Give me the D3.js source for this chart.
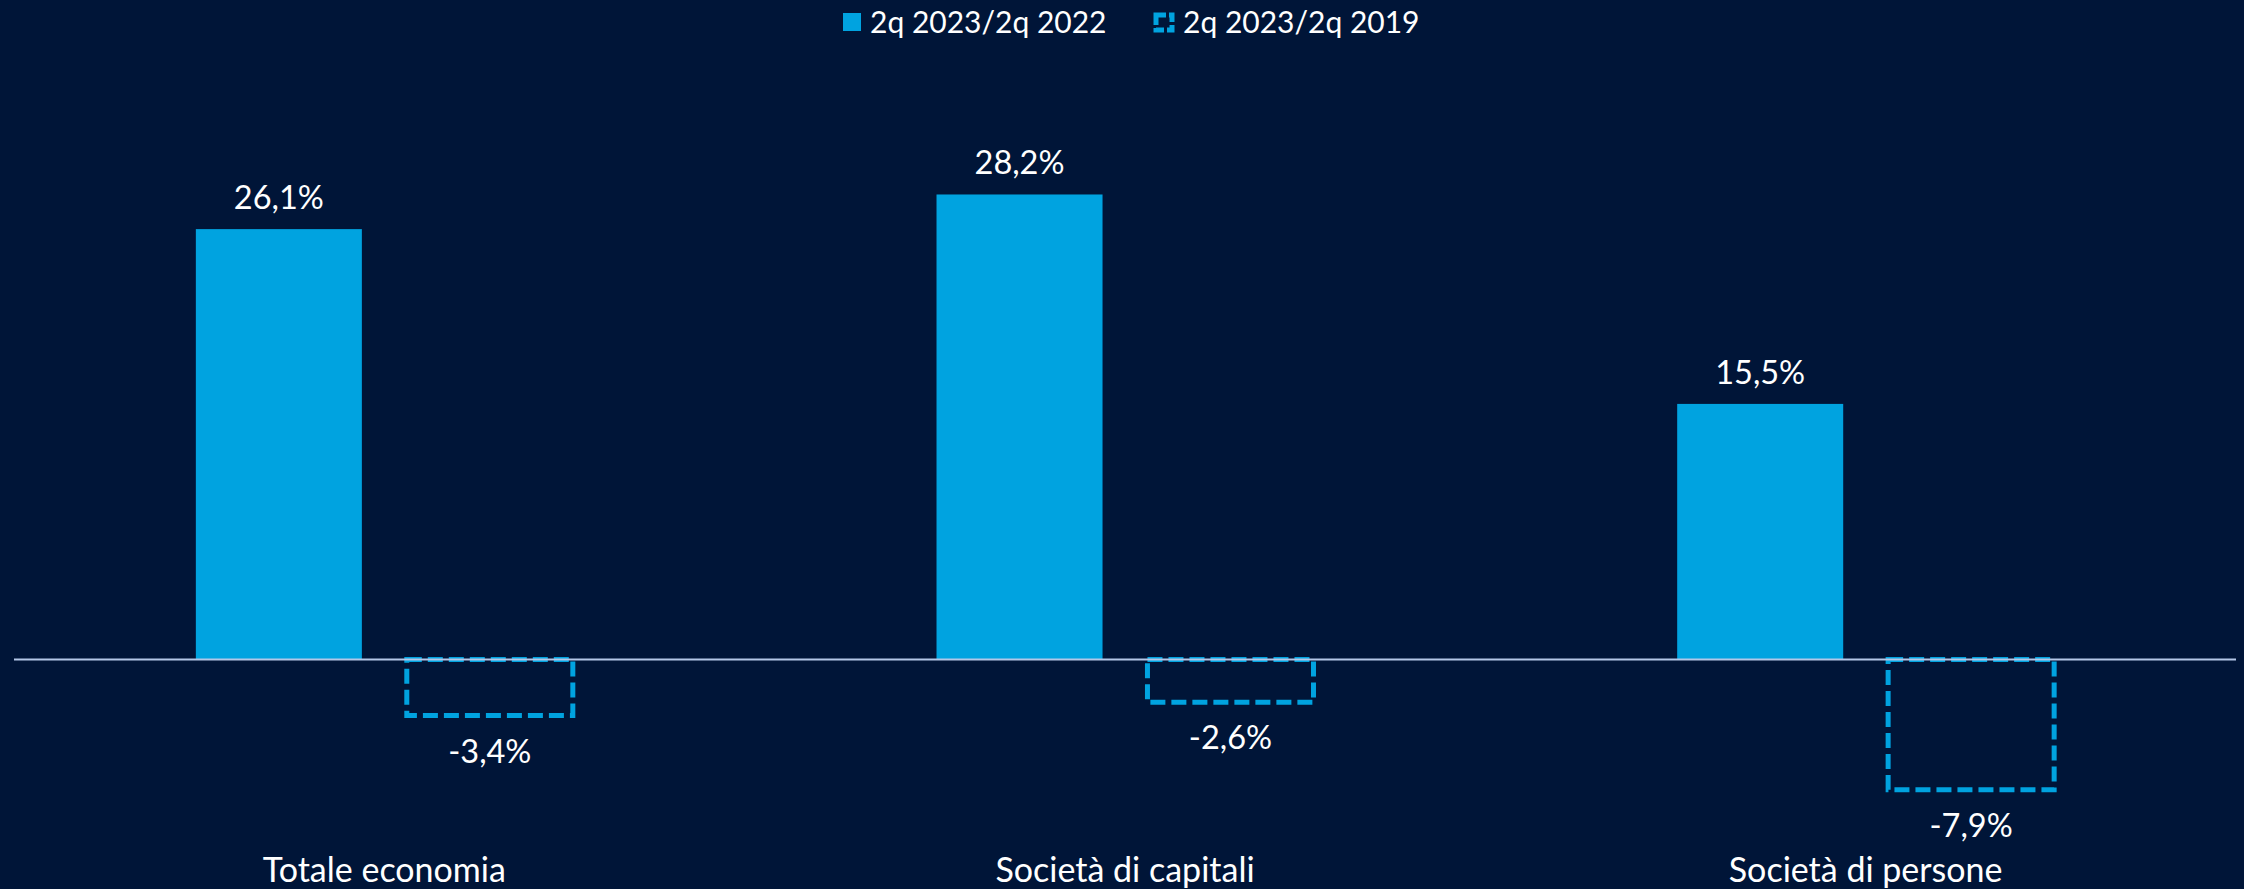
<!DOCTYPE html>
<html>
<head>
<meta charset="utf-8">
<script src="https://cdn.jsdelivr.net/npm/d3@7"></script>
<style>
  html, body { margin: 0; padding: 0; background: #001538; }
  svg { display: block; }
</style>
</head>
<body>
<div id="chart"></div>
<script>
const categories = ["Totale economia", "Società di capitali", "Società di persone"];
const seriesNames = ["2q 2023/2q 2022", "2q 2023/2q 2019"];
const vs2022 = [26.1, 28.2, 15.5];
const vs2019 = [-3.4, -2.6, -7.9];

const width = 2244;
const height = 889;
const blue = "#00a3e0";
const font = "Lato, 'Noto Sans', sans-serif";

const svg = d3.select("#chart")
  .append("svg")
  .attr("width", width)
  .attr("height", height)
  .style("background", "#001538");

const x0 = d3.scaleBand()
  .domain(categories)
  .range([14, 2236])
  .padding(0);

const x1 = d3.scaleBand()
  .domain(seriesNames)
  .range([0, x0.bandwidth()])
  .paddingInner(0.213)
  .paddingOuter(0.862);

const y = d3.scaleLinear()
  .domain([-10, 30])
  .range([824.4, 164.8]);

const rows = categories.map((c, i) => ({ cat: c, values: [vs2022[i], vs2019[i]] }));

const groups = svg.selectAll("g.group")
  .data(rows)
  .join("g")
  .attr("class", "group")
  .attr("transform", d => `translate(${x0(d.cat)},0)`);

// solid bars
groups.append("rect")
  .attr("x", x1(seriesNames[0]))
  .attr("width", x1.bandwidth())
  .attr("y", d => y(d.values[0]))
  .attr("height", d => y(0) - y(d.values[0]))
  .attr("fill", blue);

// dashed outline bars
groups.append("rect")
  .attr("x", x1(seriesNames[1]))
  .attr("width", x1.bandwidth())
  .attr("y", y(0))
  .attr("height", d => y(d.values[1]) - y(0))
  .attr("fill", "none")
  .attr("stroke", blue)
  .attr("stroke-width", 5)
  .attr("stroke-dasharray", "15,6");

const fmt = v => d3.format(".1f")(v).replace(".", ",").replace("\u2212", "-") + "%";

groups.append("text")
  .attr("x", x1(seriesNames[0]) + x1.bandwidth() / 2)
  .attr("y", d => y(d.values[0]) - 20)
  .attr("text-anchor", "middle")
  .attr("fill", "#ffffff")
  .style("font-family", font)
  .style("font-size", "32.5px")
  .text(d => fmt(d.values[0]));

groups.append("text")
  .attr("x", x1(seriesNames[1]) + x1.bandwidth() / 2)
  .attr("y", d => y(d.values[1]) + 47)
  .attr("text-anchor", "middle")
  .attr("fill", "#ffffff")
  .style("font-family", font)
  .style("font-size", "32.5px")
  .text(d => fmt(d.values[1]));

// category labels
groups.append("text")
  .attr("x", x0.bandwidth() / 2)
  .attr("y", 882)
  .attr("text-anchor", "middle")
  .attr("fill", "#ffffff")
  .style("font-family", font)
  .style("font-size", "34px")
  .text(d => d.cat);

// zero line
svg.append("line")
  .attr("x1", 14)
  .attr("x2", 2236)
  .attr("y1", y(0))
  .attr("y2", y(0))
  .attr("stroke", "#b4c7e7")
  .attr("stroke-width", 2);

// legend
const legend = svg.append("g").style("font-family", font).style("font-size", "30px");
legend.append("rect")
  .attr("x", 843).attr("y", 13).attr("width", 18).attr("height", 18)
  .attr("fill", blue);
legend.append("text")
  .attr("x", 870).attr("y", 33)
  .attr("fill", "#ffffff")
  .text(seriesNames[0]);
legend.append("rect")
  .attr("x", 1156).attr("y", 15).attr("width", 16).attr("height", 15)
  .attr("fill", "none")
  .attr("stroke", blue)
  .attr("stroke-width", 5)
  .attr("stroke-dasharray", "10,3");
legend.append("text")
  .attr("x", 1183).attr("y", 33)
  .attr("fill", "#ffffff")
  .text(seriesNames[1]);
</script>
</body>
</html>
